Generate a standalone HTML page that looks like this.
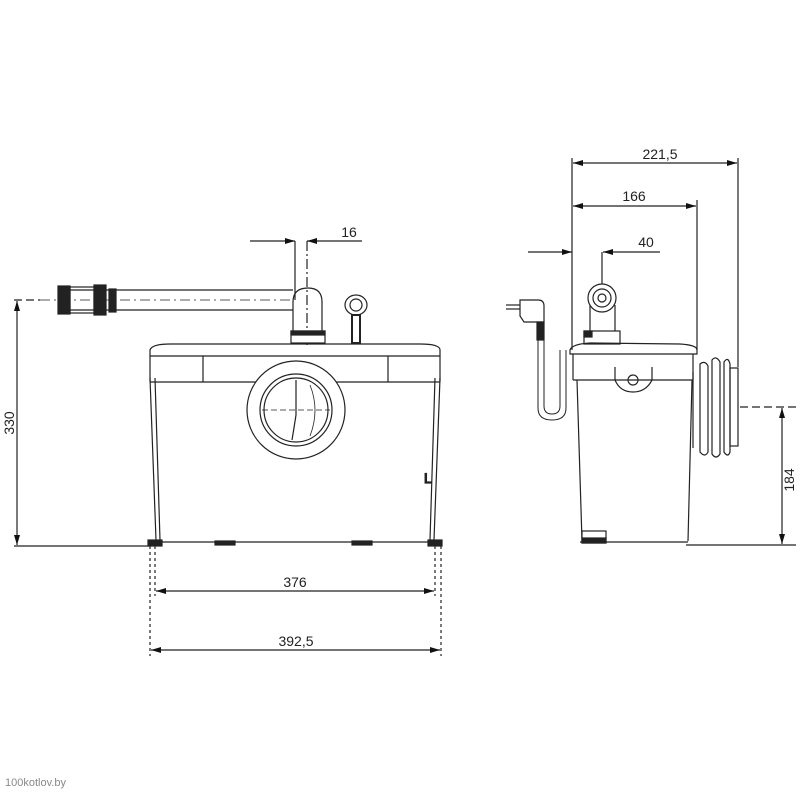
<!DOCTYPE html>
<html><head><meta charset="utf-8"><style>
html,body{margin:0;padding:0;background:#fff}
svg{display:block}
text{font-family:"Liberation Sans",sans-serif;font-size:14px;fill:#222}
</style></head><body>
<svg width="801" height="801" viewBox="0 0 801 801" xmlns="http://www.w3.org/2000/svg">
<defs>
<marker id="a" viewBox="0 0 10 6" refX="10" refY="3" markerWidth="10" markerHeight="6" orient="auto-start-reverse" markerUnits="userSpaceOnUse"><path d="M0,0 L10,3 L0,6 z" fill="#111"/></marker>
</defs>
<g stroke="#222" stroke-width="1.2" fill="none">
<!-- dim 330 -->
<line x1="17" y1="301" x2="17" y2="545" marker-start="url(#a)" marker-end="url(#a)"/>
<line x1="14" y1="300" x2="40" y2="300" stroke-dasharray="8,4"/>
<line x1="14" y1="546" x2="150" y2="546"/>
<!-- dim 376, 392.5 -->
<line x1="150" y1="546" x2="150" y2="656" stroke-dasharray="3,3"/>
<line x1="155" y1="546" x2="155" y2="596" stroke-dasharray="3,3"/>
<line x1="435" y1="546" x2="435" y2="596" stroke-dasharray="3,3"/>
<line x1="441" y1="546" x2="441" y2="656" stroke-dasharray="3,3"/>
<line x1="156" y1="591" x2="434" y2="591" marker-start="url(#a)" marker-end="url(#a)"/>
<line x1="151" y1="650" x2="440" y2="650" marker-start="url(#a)" marker-end="url(#a)"/>
<!-- dim 16 -->
<line x1="250" y1="241" x2="295" y2="241" marker-end="url(#a)"/>
<line x1="362" y1="241" x2="307" y2="241" marker-end="url(#a)"/>
<line x1="295" y1="241" x2="295" y2="300"/>
<line x1="307" y1="241" x2="307" y2="345" stroke-dasharray="10,3,2,3"/>
<!-- pipe -->
<line x1="60" y1="290" x2="293" y2="290"/>
<line x1="60" y1="310" x2="293" y2="310"/>
<line x1="40" y1="300" x2="290" y2="300" stroke-dasharray="10,4,2,4" stroke-width="0.8"/>
<rect x="58" y="286" width="12" height="28" fill="#222"/>
<rect x="70" y="287" width="24" height="26"/>
<rect x="94" y="285" width="12" height="30" fill="#222"/>
<rect x="109" y="289" width="7" height="23" fill="#222"/>
<!-- elbow -->
<path d="M293,333 L293,302 Q293,288 308,288 Q322,288 322,302 L322,333"/>
<rect x="291" y="331" width="34" height="12" fill="#fff"/>
<rect x="291" y="331" width="34" height="4" fill="#222"/>
<!-- hook -->
<ellipse cx="356" cy="305" rx="11" ry="10"/>
<ellipse cx="356" cy="305" rx="6" ry="6"/>
<rect x="352" y="315" width="8" height="28" stroke-width="2"/>
<!-- body front -->
<path d="M150,350 Q152,344 170,344 L420,344 Q440,344 440,350 L440,356 L150,356 Z"/>
<line x1="150" y1="356" x2="150" y2="382"/>
<line x1="440" y1="356" x2="440" y2="382"/>
<line x1="203" y1="356" x2="203" y2="382"/>
<line x1="388" y1="356" x2="388" y2="382"/>
<line x1="150" y1="382" x2="440" y2="382"/>
<path d="M150,378 L156,540 M155,378 L160,540 M440,378 L434,540 M435,378 L430,540"/>
<line x1="148" y1="542" x2="442" y2="542"/>
<rect x="148" y="540" width="14" height="6" fill="#222"/>
<rect x="428" y="540" width="14" height="6" fill="#222"/>
<rect x="215" y="541" width="20" height="4" fill="#222"/>
<rect x="352" y="541" width="20" height="4" fill="#222"/>
<circle cx="296" cy="410" r="49" fill="#fff"/>
<circle cx="296" cy="410" r="36"/>
<circle cx="296" cy="410" r="32"/>
<line x1="262" y1="410" x2="330" y2="410" stroke-dasharray="6,3" stroke-width="0.8"/>
<path d="M296,380 L296,415 Q294,428 292,440"/>
<path d="M310,385 Q320,410 310,436" stroke-width="0.8"/>
<text x="424" y="483" font-size="9">L</text>
<!-- side view dims -->
<line x1="572" y1="158" x2="572" y2="350"/>
<line x1="738" y1="158" x2="738" y2="367"/>
<line x1="697" y1="200" x2="697" y2="350"/>
<line x1="573" y1="163" x2="737" y2="163" marker-start="url(#a)" marker-end="url(#a)"/>
<line x1="573" y1="206" x2="696" y2="206" marker-start="url(#a)" marker-end="url(#a)"/>
<line x1="528" y1="252" x2="572" y2="252" marker-end="url(#a)"/>
<line x1="660" y1="252" x2="603" y2="252" marker-end="url(#a)"/>
<line x1="602" y1="252" x2="602" y2="284"/>
<line x1="782" y1="408" x2="782" y2="544" marker-start="url(#a)" marker-end="url(#a)"/>
<line x1="740" y1="407" x2="796" y2="407" stroke-dasharray="8,4"/>
<line x1="686" y1="545" x2="796" y2="545"/>
<!-- side fitting -->
<circle cx="602" cy="298" r="14"/>
<circle cx="602" cy="298" r="9"/>
<circle cx="602" cy="298" r="4"/>
<line x1="590" y1="305" x2="590" y2="333"/>
<line x1="615" y1="305" x2="615" y2="333"/>
<rect x="584" y="331" width="36" height="13" fill="#fff"/>
<rect x="584" y="331" width="8" height="6" fill="#222"/>
<!-- side body -->
<path d="M570,350 Q572,344 590,343 L680,344 Q697,345 697,350 L697,354 L570,354 Z"/>
<line x1="573" y1="354" x2="573" y2="380"/>
<line x1="693" y1="354" x2="693" y2="380"/>
<line x1="573" y1="380" x2="693" y2="380"/>
<path d="M615,367 L615,380 Q620,392 633,392 Q646,392 652,380 L652,367"/>
<circle cx="633" cy="380" r="5"/>
<path d="M577,380 L582,541 M692,380 L688,541"/>
<line x1="580" y1="542" x2="688" y2="542"/>
<rect x="582" y="531" width="24" height="12" fill="#fff"/>
<rect x="582" y="538" width="24" height="5" fill="#222"/>
<!-- bellows -->
<path d="M693,372 L693,448 M700,364 Q705,360 708,366 L708,452 Q705,458 700,452 Z M712,360 Q716,355 720,362 L720,454 Q716,460 712,454 Z M724,362 Q728,356 730,364 L730,452 Q728,458 724,452 Z"/>
<rect x="730" y="368" width="8" height="78"/>
<!-- plug & cord -->
<path d="M520,300 L538,300 Q544,300 544,306 L544,322 L524,322 L520,316 Z"/>
<line x1="506" y1="305" x2="520" y2="305"/>
<line x1="506" y1="309" x2="520" y2="309"/>
<rect x="537" y="322" width="7" height="18" fill="#222"/>
<path d="M538,340 L538,408 Q538,420 552,420 Q566,420 566,408 L566,350 M544,340 L544,406 Q544,414 552,414 Q560,414 560,406 L560,350" stroke-width="1"/>
</g>
<text x="295" y="587" text-anchor="middle">376</text>
<text x="296" y="646" text-anchor="middle">392,5</text>
<text x="349" y="237" text-anchor="middle">16</text>
<text x="660" y="159" text-anchor="middle">221,5</text>
<text x="634" y="201" text-anchor="middle">166</text>
<text x="646" y="247" text-anchor="middle">40</text>
<text transform="translate(14,423) rotate(-90)" text-anchor="middle">330</text>
<text transform="translate(794,480) rotate(-90)" text-anchor="middle">184</text>
<text x="5" y="786" style="font-size:11px;fill:#888">100kotlov.by</text>
</svg>
</body></html>
